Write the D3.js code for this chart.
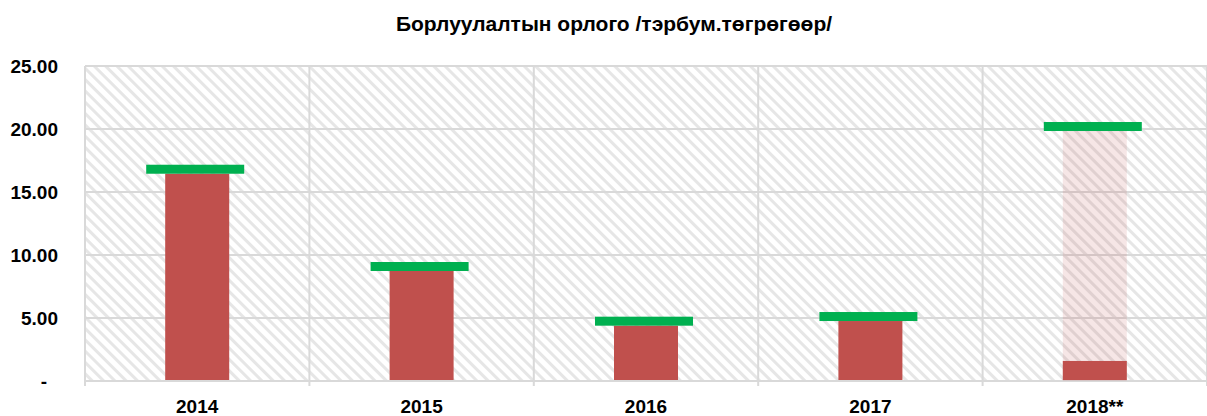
<!DOCTYPE html>
<html>
<head>
<meta charset="utf-8">
<script src="https://cdn.jsdelivr.net/npm/d3@7"></script>
<style>
  body { margin: 0; background: #fff; }
  text { font-family: "Liberation Sans", Arial, sans-serif; font-weight: bold; fill: #000; }
</style>
</head>
<body>
<svg id="chart" width="1207" height="416"></svg>
<script>
// data
const years = ["2014", "2015", "2016", "2017", "2018**"];
const sales = [16.45, 8.73, 4.39, 4.76, 1.59];      // actual sales (red bars)
const forecast = [null, null, null, null, 19.84];   // expected 2018 (faded bar)
const yTicks = [0, 5, 10, 15, 20, 25];

const svg = d3.select("#chart");
const margin = { top: 66, right: 0, bottom: 35, left: 85 };
const width = 1207 - margin.left - margin.right;
const height = 416 - margin.top - margin.bottom;

// diagonal hatch for plot background
let defs = svg.append("defs");
let pat = defs.append("pattern")
  .attr("id", "hatch")
  .attr("width", 8).attr("height", 8)
  .attr("patternUnits", "userSpaceOnUse")
  .attr("patternTransform", "rotate(45)");
pat.append("rect").attr("width", 8).attr("height", 8).attr("fill", "#fff");
pat.append("rect").attr("x", 0).attr("y", 0).attr("width", 8).attr("height", 3).attr("fill", "#e6e6e6");

svg.append("text")
  .attr("x", 614).attr("y", 31)
  .attr("text-anchor", "middle")
  .style("font-size", "21px")
  .text("Борлуулалтын орлого /тэрбум.төгрөгөөр/");

let g = svg.append("g").attr("transform", `translate(${margin.left},${margin.top})`);

let x = d3.scaleBand().domain(years).range([0, width]);
let y = d3.scaleLinear().domain([0, 25]).range([height, 0]);

g.append("rect").attr("width", width).attr("height", height).attr("fill", "url(#hatch)");

// horizontal gridlines
g.selectAll(".hgrid")
  .data(yTicks)
  .join("line")
  .attr("x1", 0).attr("x2", width)
  .attr("y1", d => y(d)).attr("y2", d => y(d))
  .attr("stroke", "#d9d9d9").attr("stroke-width", 2);

// vertical category lines
let bounds = years.map(d => x(d)).concat([width]);
g.selectAll(".vgrid")
  .data(bounds)
  .join("line")
  .attr("x1", d => d).attr("x2", d => d)
  .attr("y1", 0).attr("y2", height + 5)
  .attr("stroke", "#d9d9d9").attr("stroke-width", 2);

const barW = 64;
const capW = 98;
const capH = 9;

// faded forecast bars
g.selectAll(".fc")
  .data(years.map((d, i) => ({ year: d, v: forecast[i] })).filter(d => d.v != null))
  .join("rect")
  .attr("x", d => x(d.year) + x.bandwidth() / 2 - barW / 2)
  .attr("width", barW)
  .attr("y", d => y(d.v))
  .attr("height", d => y(0) - y(d.v))
  .attr("fill", "#c0504d").attr("fill-opacity", 0.14);

// actual bars
g.selectAll(".bar")
  .data(years.map((d, i) => ({ year: d, v: sales[i] })))
  .join("rect")
  .attr("x", d => x(d.year) + x.bandwidth() / 2 - barW / 2)
  .attr("width", barW)
  .attr("y", d => y(d.v))
  .attr("height", d => y(0) - y(d.v) - 1)
  .attr("fill", "#c0504d");

// green caps on top of the highest value
g.selectAll(".cap")
  .data(years.map((d, i) => ({ year: d, v: forecast[i] != null ? forecast[i] : sales[i] })))
  .join("rect")
  .attr("x", d => x(d.year) + x.bandwidth() / 2 - capW / 2 - 2)
  .attr("width", capW)
  .attr("y", d => y(d.v) - capH)
  .attr("height", capH)
  .attr("fill", "#00b050");

// y axis labels
g.selectAll(".ylab")
  .data(yTicks)
  .join("text")
  .attr("x", d => d === 0 ? -38 : -27)
  .attr("y", d => y(d) + 7)
  .attr("text-anchor", "end")
  .style("font-size", "19px")
  .text(d => d === 0 ? "-" : d3.format(".2f")(d));

// x axis labels
g.selectAll(".xlab")
  .data(years)
  .join("text")
  .attr("x", d => x(d) + x.bandwidth() / 2)
  .attr("y", height + 32)
  .attr("text-anchor", "middle")
  .style("font-size", "19px")
  .text(d => d);
</script>
</body>
</html>
